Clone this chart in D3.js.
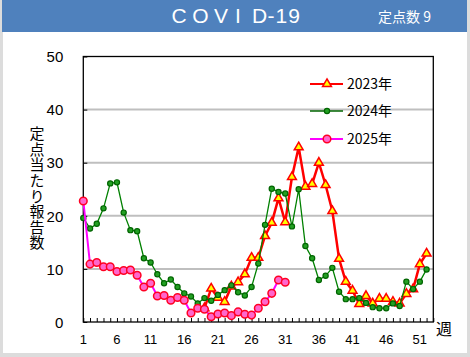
<!DOCTYPE html>
<html><head><meta charset="utf-8">
<script src="https://cdn.jsdelivr.net/npm/d3@7"></script>
<style>
html,body{margin:0;padding:0;background:#dcdcdc;}
svg{display:block;}
</style></head>
<body>
<svg id="c" width="470" height="357"></svg>
<script>
const weeks = d3.range(1, 53);
const xTickLabels = [1, 6, 11, 16, 21, 26, 31, 36, 41, 46, 51];
const yTickLabels = [0, 10, 20, 30, 40, 50];
const seriesNames = ["2023年", "2024年", "2025年"];
// 2023: weeks 19-52
const start2023 = 19;
const values2023 = [2.6, 6.3, 4.6, 3.8, 6.7, 7.5, 9.0, 12.1, 12.1, 16.2, 18.7, 23.3, 18.8, 27.3, 32.9,
  25.5, 26.0, 30.0, 25.8, 20.9, 11.9, 7.6, 5.9, 3.4, 4.9, 3.5, 4.4, 4.4, 3.8, 3.5, 5.3, 6.2, 10.9, 12.9];
// 2024: weeks 1-52
const values2024 = [19.6, 17.6, 18.5, 21.4, 26.1, 26.3, 20.6, 17.3, 17.1, 12.0, 11.2, 9.0, 7.3, 8.0, 6.6,
  5.4, 4.8, 3.5, 4.5, 4.0, 5.1, 6.0, 6.9, 5.6, 5.0, 6.6, 11.0, 18.3, 25.1, 24.5, 24.2, 18.0, 25.0, 14.3,
  12.0, 7.9, 8.7, 10.2, 5.7, 4.3, 4.3, 4.5, 3.6, 2.8, 2.6, 2.6, 3.5, 3.0, 7.6, 6.2, 7.6, 9.9];
// 2025: weeks 1-31
const values2025 = [22.8, 10.9, 11.2, 10.4, 10.4, 9.5, 9.7, 9.8, 8.8, 6.6, 7.3, 4.9, 5.0, 4.1, 4.6, 4.1,
  1.7, 2.6, 2.4, 1.0, 1.5, 1.7, 1.2, 1.9, 1.45, 1.3, 2.6, 3.8, 5.4, 7.9, 7.5];

const svg = d3.select("#c");
const JP = "'Noto Sans CJK JP','Noto Sans',sans-serif";
const NUM = "'Liberation Sans',Arial,sans-serif";

// panel
svg.append("rect").attr("x", 3).attr("y", 0).attr("width", 464).attr("height", 353).attr("fill", "#fff");
svg.append("rect").attr("x", 2).attr("y", 0).attr("width", 465).attr("height", 32).attr("fill", "#4f81bd");

// title
const t = svg.append("text").attr("y", 23).attr("fill", "#fff")
  .style("font-family", NUM).style("font-size", "21px");
const letters = ["C", "O", "V", "I", "D"];
const lx = [179, 200.5, 221, 238, 259.5];
letters.forEach((ch, i) => t.append("tspan").attr("x", lx[i]).attr("text-anchor", "middle").text(ch));
t.append("tspan").attr("x", 267.5).attr("text-anchor", "start").attr("letter-spacing", "1px").text("-19");
svg.append("text").attr("x", 378).attr("y", 22).attr("fill", "#fff")
  .style("font-family", JP).style("font-size", "14px").text("定点数 9");

const x = d3.scaleLinear().domain([1, 53]).range([83.3, 433.3]);
const y = d3.scaleLinear().domain([0, 50]).range([322, 56.5]);

// gridlines
svg.append("g").selectAll("line").data([10, 20, 30, 40]).join("line")
  .attr("x1", x(1)).attr("x2", x(53)).attr("y1", d => y(d)).attr("y2", d => y(d))
  .attr("stroke", "#bfbfbf").attr("stroke-width", 2);

// frame
svg.append("rect").attr("x", x(1)).attr("y", y(50)).attr("width", x(53) - x(1)).attr("height", y(0) - y(50))
  .attr("fill", "none").attr("stroke", "#000").attr("stroke-width", 1.3);

// x axis ticks (inner, each week)
const xAxis = d3.axisBottom(x).tickValues(d3.range(1, 54)).tickSize(-4).tickFormat("");
const gx = svg.append("g").attr("transform", `translate(0,${y(0)})`).call(xAxis);
gx.select(".domain").remove();
gx.selectAll("line").attr("stroke", "#000");
svg.append("g").selectAll("text").data(xTickLabels).join("text")
  .attr("x", d => x(d)).attr("y", 344).attr("text-anchor", "middle")
  .style("font-family", NUM).style("font-size", "13px").attr("fill", "#000").text(d => d);

// y axis labels
const yAxis = d3.axisLeft(y).tickValues(yTickLabels).tickSize(-4).tickFormat(d => d);
const gy = svg.append("g").attr("transform", `translate(${x(1)},0)`).call(yAxis);
gy.select(".domain").remove();
gy.selectAll("line").attr("stroke", "#000");
gy.selectAll("text").attr("x", -20).attr("dy", "0.35em").attr("text-anchor", "end")
  .style("font-family", NUM).style("font-size", "15px").attr("fill", "#000");

// y title (vertical writing)
svg.append("text").attr("x", 37).attr("y", 126)
  .style("font-family", JP).style("font-size", "15px").attr("fill", "#000")
  .style("writing-mode", "vertical-rl").style("letter-spacing", "0.6px")
  .text("定点当たり報告数");

svg.append("text").attr("x", 436).attr("y", 335)
  .style("font-family", JP).style("font-size", "16px").attr("fill", "#000").text("週");

const line = d3.line().x(d => x(d[0])).y(d => y(d[1]));
const d2023 = values2023.map((v, i) => [start2023 + i, v]);
const d2024 = values2024.map((v, i) => [weeks[i], v]);
const d2025 = values2025.map((v, i) => [weeks[i], v]);

const tri = d3.symbol().type(d3.symbolTriangle).size(34);

function drawTri(g, data) {
  g.selectAll("path.m").data(data).join("path").attr("class", "m")
    .attr("transform", d => `translate(${x(d[0])},${y(d[1])})`)
    .attr("d", tri).attr("fill", "#ffff00").attr("stroke", "#ff0000").attr("stroke-width", 1.5);
}
function drawCirc(g, data, r, fill, stroke, sw) {
  g.selectAll("circle").data(data).join("circle")
    .attr("cx", d => x(d[0])).attr("cy", d => y(d[1])).attr("r", r)
    .attr("fill", fill).attr("stroke", stroke).attr("stroke-width", sw);
}

// 2023
const g23 = svg.append("g");
g23.append("path").datum(d2023).attr("d", line).attr("fill", "none").attr("stroke", "#ff0000").attr("stroke-width", 2.5);
drawTri(g23, d2023);
// 2024
const g24 = svg.append("g");
g24.append("path").datum(d2024).attr("d", line).attr("fill", "none").attr("stroke", "#008000").attr("stroke-width", 1.3);
drawCirc(g24, d2024, 2.6, "#22a022", "#006400", 1.2);
// 2025
const g25 = svg.append("g");
g25.append("path").datum(d2025).attr("d", line).attr("fill", "none").attr("stroke", "#ff00ff").attr("stroke-width", 2);
drawCirc(g25, d2025, 3.8, "#ff66cc", "#ff0022", 1.5);

// legend
const legY = [84, 111, 139];
const lg = svg.append("g");
seriesNames.forEach((name, i) => {
  const col = ["#ff0000", "#006400", "#ff00ff"][i];
  const sw = [2, 1.5, 2][i];
  lg.append("line").attr("x1", 310).attr("x2", 343).attr("y1", legY[i]).attr("y2", legY[i])
    .attr("stroke", col).attr("stroke-width", sw);
  if (i === 0) {
    lg.append("path").attr("transform", `translate(327,${legY[i]})`).attr("d", tri)
      .attr("fill", "#ffff00").attr("stroke", "#ff0000").attr("stroke-width", 1.5);
  } else if (i === 1) {
    lg.append("circle").attr("cx", 327).attr("cy", legY[i]).attr("r", 2.6)
      .attr("fill", "#22a022").attr("stroke", "#006400").attr("stroke-width", 1.2);
  } else {
    lg.append("circle").attr("cx", 327).attr("cy", legY[i]).attr("r", 3.8)
      .attr("fill", "#ff66cc").attr("stroke", "#ff0022").attr("stroke-width", 1.5);
  }
  lg.append("text").attr("x", 347).attr("y", legY[i]).attr("dy", "0.36em")
    .style("font-family", JP).style("font-size", "14px").attr("fill", "#000").text(name);
});
</script>
</body></html>
